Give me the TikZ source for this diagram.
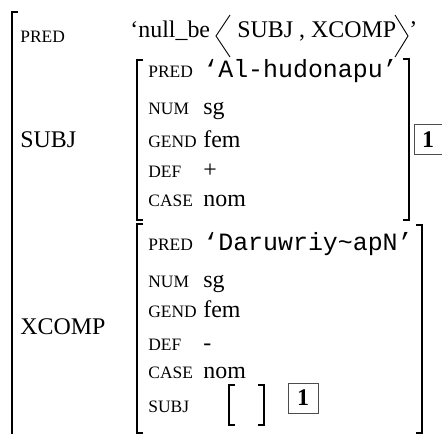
\documentclass[tikz,border=0pt]{standalone}
\usepackage{fontspec}
\setmainfont{Liberation Serif}
\setmonofont{Liberation Mono}
\usetikzlibrary{positioning}
\tikzset{
  every picture/.style={line width=0.8pt},
  feat/.style={anchor=base west, inner sep=0pt, font=\fontsize{17.5}{19}\selectfont},
  val/.style={anchor=base west, inner sep=0pt, font=\fontsize{24}{26}\selectfont},
  tval/.style={anchor=base west, inner sep=0pt, font=\fontsize{25}{27}\selectfont\ttfamily},
  lbl/.style={anchor=base west, inner sep=0pt, font=\fontsize{24}{26}\selectfont},
  tagnum/.style={anchor=center, inner sep=0pt, font=\fontsize{24}{26}\selectfont\bfseries},
  tagline/.style={draw=black!70, line width=1bp},
  brack/.style={line width=1.7bp},
  angle/.style={line width=0.9bp}
}

\begin{document}
\begin{tikzpicture}[x=1bp, y=-1bp]
    \useasboundingbox (0,0) rectangle (442,434);
    \clip (0,0) rectangle (442,434);

    % outer f-structure
    \draw[brack] (18,12) -- (12,12) -- (12,440);

    \node [feat] (pred) at (20,43) {PRED};
    \node [val] (null) at (130,38) {‘null\_be};
    \node [val] (args) at (237,38) {SUBJ , XCOMP};
    \node [val] (cq) at (409,38) {’};
    \draw[angle] (230,15) -- (216,36) -- (230,57);
    \draw[angle] (395,15) -- (408,36) -- (395,57);

    \node [lbl] (subj) at (20,148) {SUBJ};
    \node [lbl] (xcomp) at (20,334) {XCOMP};

    % SUBJ value
    \draw[brack] (143,60) -- (137,60) -- (137,220) -- (143,220);
    \draw[brack] (403,59) -- (409,59) -- (409,220) -- (403,220);

    \node [feat] (s1) at (148,78) {PRED};
    \node [tval] (v1) at (203,78) {‘Al-hudonapu’};
    \node [feat] (s2) at (148,115) {NUM};
    \node [val] (v2) at (203,115) {sg};
    \node [feat] (s3) at (148,148) {GEND};
    \node [val] (v3) at (203,148) {fem};
    \node [feat] (s4) at (148,178) {DEF};
    \node [val] (v4) at (203,178) {+};
    \node [feat] (s5) at (148,207) {CASE};
    \node [val] (v5) at (203,207) {nom};

    \node [tagnum] (tag1) at (428,140) {1};
    \draw[tagline] (tag1.center) ++(-14,-15) rectangle ++(30,30);

    % XCOMP value
    \draw[brack] (143,224) -- (137,224) -- (137,433) -- (143,433);
    \draw[brack] (416,225) -- (422,225) -- (422,433) -- (416,433);

    \node [feat] (x1) at (148,250) {PRED};
    \node [tval] (w1) at (203,250) {‘Daruwriy\textasciitilde apN’};
    \node [feat] (x2) at (148,287) {NUM};
    \node [val] (w2) at (203,287) {sg};
    \node [feat] (x3) at (148,317) {GEND};
    \node [val] (w3) at (203,317) {fem};
    \node [feat] (x4) at (148,350) {DEF};
    \node [val] (w4) at (203,350) {-};
    \node [feat] (x5) at (148,378) {CASE};
    \node [val] (w5) at (203,378) {nom};
    \node [feat] (x6) at (148,412) {SUBJ};

    \draw[brack] (235,385) -- (229,385) -- (229,425) -- (235,425);
    \draw[brack] (258,385) -- (264,385) -- (264,425) -- (258,425);
    \node [tagnum] (tag2) at (303,398) {1};
    \draw[tagline] (tag2.center) ++(-15,-15) rectangle ++(30,30);
\end{tikzpicture}
\end{document}
